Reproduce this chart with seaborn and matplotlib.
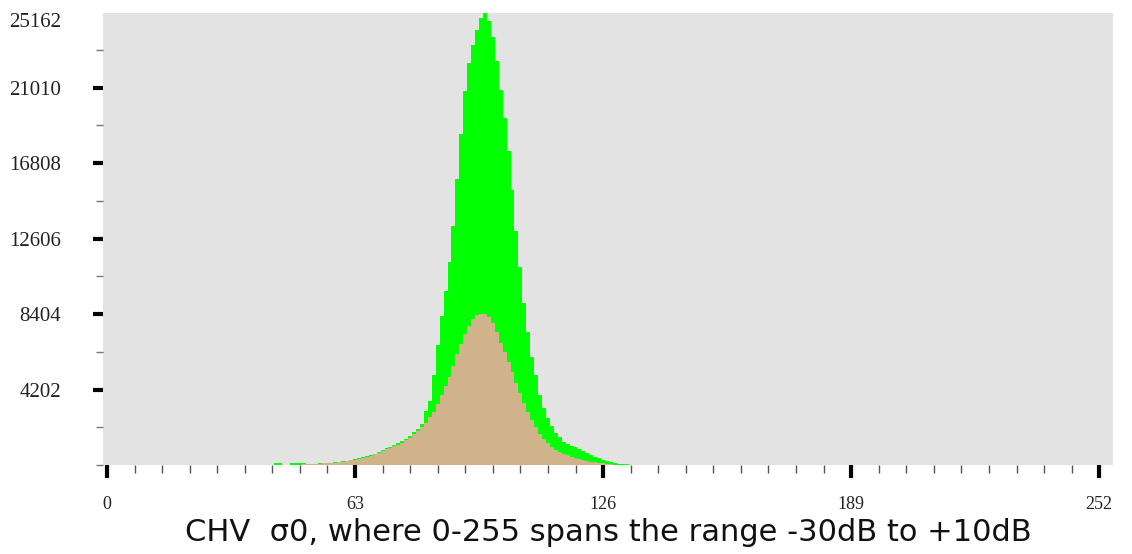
import numpy as np
import pandas as pd
import matplotlib
matplotlib.use("Agg")
import matplotlib.pyplot as plt
import seaborn as sns
from matplotlib.ticker import FixedLocator

# ---- data (histogram counts per 0-255 level) ----
green_bins = list(range(43, 133))
green_counts = [
    90, 90, 0, 0, 90, 90, 90, 90,                      # 43-50
    60, 70, 80, 90, 100, 110, 125, 140, 165, 195,      # 51-60
    235, 280, 320, 365, 425, 490, 555, 640, 730, 830,  # 61-70
    930, 1010, 1110, 1200, 1310, 1460, 1620, 1810, 2000, 2300,  # 71-80
    3000, 3560, 5000, 6700, 8300, 9700, 11300, 13300, 15900, 18400,  # 81-90
    20800, 22400, 23400, 24200, 24900, 25162, 24700, 23800, 22500, 20900,  # 91-100
    19300, 17500, 15300, 13000, 11000, 9000, 7400, 6000, 5000, 3900,  # 101-110
    3200, 2600, 2150, 1800, 1550, 1300, 1150, 1050, 1000, 880,  # 111-120
    760, 650, 550, 470, 380, 300, 220, 150, 100, 60,  # 121-130
    50, 50,                                            # 131-132
]
tan_bins = list(range(50, 129))
tan_counts = [
    40, 50, 60, 70, 80, 90, 100, 110, 128, 150,        # 50-59
    180, 220, 260, 300, 340, 400, 460, 520, 600, 690,  # 60-69
    780, 880, 960, 1050, 1140, 1240, 1380, 1520, 1700, 1900,  # 70-79
    2100, 2350, 2650, 2950, 3400, 3900, 4400, 4900, 5500, 6200,  # 80-89
    6750, 7300, 7750, 8100, 8350, 8420, 8400, 8250, 7900, 7400,  # 90-99
    6800, 6300, 5750, 5150, 4550, 4000, 3450, 2950, 2500, 2100,  # 100-109
    1750, 1450, 1200, 1000, 850, 720, 620, 540, 460, 390,  # 110-119
    330, 280, 230, 190, 150, 120, 90, 60, 40,          # 120-128
]
y_tick_values = [4202, 8404, 12606, 16808, 21010, 25162]
x_tick_values = [0, 63, 126, 189, 252]
x_label = "CHV  σ0, where 0-255 spans the range -30dB to +10dB"

green_df = pd.DataFrame({"level": green_bins, "count": green_counts})
tan_df = pd.DataFrame({"level": tan_bins, "count": tan_counts})

# ---- figure ----
fig = plt.figure(figsize=(11.32, 5.54), dpi=100)
fig.patch.set_facecolor("white")
ax = fig.add_axes([103 / 1132, 1 - 465 / 554, (1113 - 103) / 1132, (465 - 13) / 554])
ax.set_facecolor("#E3E3E3")

sns.histplot(data=green_df, x="level", weights="count", discrete=True,
             color="#00FF00", alpha=1, linewidth=0, element="bars",
             antialiased=False, ax=ax)
sns.histplot(data=tan_df, x="level", weights="count", discrete=True,
             color="#D0B38B", alpha=1, linewidth=0, element="bars",
             antialiased=False, ax=ax)

ax.set_xlim(-1, 255.5)
ax.set_ylim(0, 25162)
for s in ax.spines.values():
    s.set_visible(False)

# y ticks
ax.yaxis.set_major_locator(FixedLocator(y_tick_values))
ax.set_yticklabels([str(v) for v in y_tick_values])
ax.yaxis.set_minor_locator(FixedLocator([0] + [2101 * k for k in range(1, 12, 2)]))
ax.tick_params(axis="y", which="major", direction="out", length=7, width=3,
               color="black", pad=23, labelsize=15)
ax.tick_params(axis="y", which="minor", direction="out", length=5, width=1, color="#777777")
top_tick = ax.yaxis.get_major_ticks()[-1]
top_tick.tick1line.set_visible(False)

# x ticks
ax.xaxis.set_major_locator(FixedLocator(x_tick_values))
ax.set_xticklabels([str(v) for v in x_tick_values])
ax.xaxis.set_minor_locator(FixedLocator([v for v in range(0, 256, 7) if v % 63 != 0]))
ax.tick_params(axis="x", which="major", direction="out", length=9, width=3,
               color="black", pad=13, labelsize=13)
ax.tick_params(axis="x", which="minor", direction="out", length=6, width=1, color="#555555")

for lbl in ax.get_xticklabels() + ax.get_yticklabels():
    lbl.set_family("Liberation Serif")
    lbl.set_color("#222222")
ax.get_yticklabels()[-1].set_verticalalignment("top")

ax.set_ylabel("")
ax.set_xlabel(x_label, fontsize=22, family="DejaVu Sans",
              color="#111111", labelpad=4)

fig.savefig("out.png", dpi=100)
